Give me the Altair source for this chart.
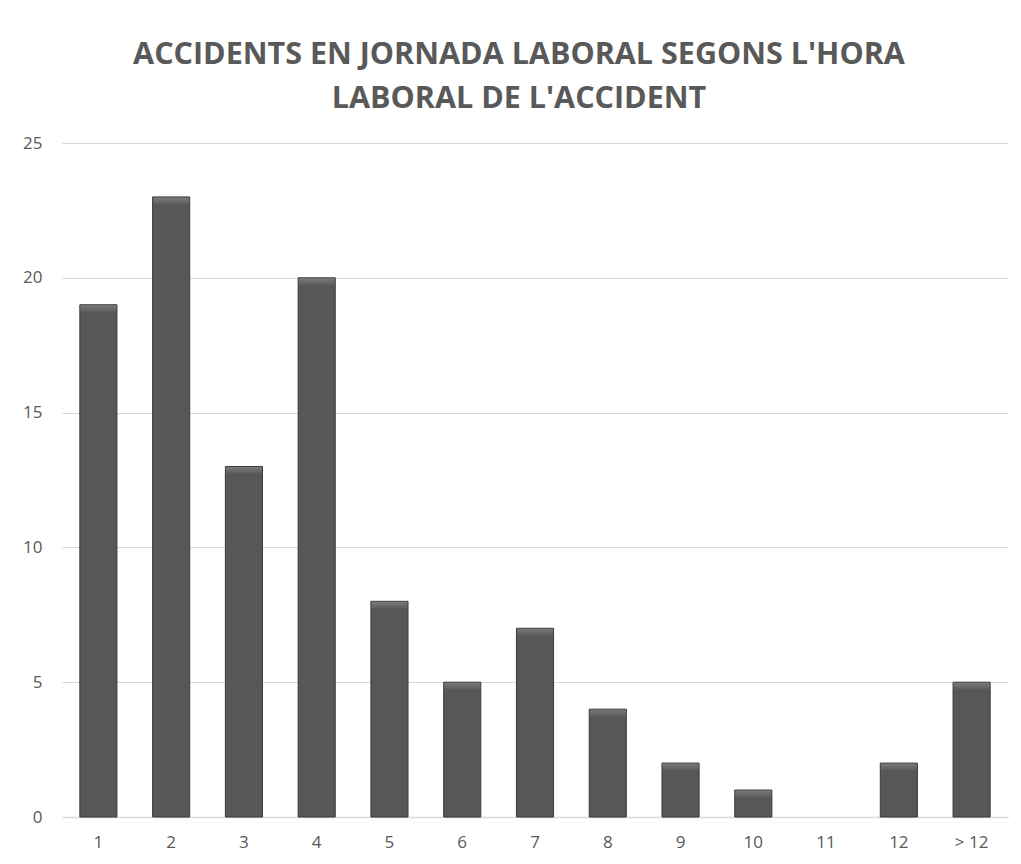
import altair as alt
import pandas as pd

categories = ["1", "2", "3", "4", "5", "6", "7", "8", "9", "10", "11", "12", "> 12"]
values = [19, 23, 13, 20, 8, 5, 7, 4, 2, 1, 0, 2, 5]

df = pd.DataFrame({"hora": categories, "accidents": values})

x = alt.X("hora:N", sort=categories, title=None,
          scale=alt.Scale(paddingInner=0.49, paddingOuter=0.245),
          axis=alt.Axis(labelAngle=0, labelFont="Open Sans", labelFontSize=17,
                        labelColor="#595959", labelPadding=17, ticks=False,
                        domainColor="#d9d9d9", domainWidth=1.5))
y = alt.Y("accidents:Q", title=None,
          scale=alt.Scale(domain=[0, 25]),
          axis=alt.Axis(values=[0, 5, 10, 15, 20, 25], labelFont="Open Sans",
                        labelFontSize=17, labelColor="#595959", labelPadding=20,
                        ticks=False, domain=False, gridColor="#d9d9d9",
                        gridWidth=1.2))

bars = alt.Chart(df).mark_bar(color="#575757", stroke="#3a3a3a", strokeWidth=1).encode(
    x=x, y=y,
    strokeOpacity=alt.condition("datum.accidents > 0", alt.value(1), alt.value(0)))

tops = alt.Chart(df).transform_filter("datum.accidents > 0").mark_tick(
    thickness=7, size=36, yOffset=4,
    color=alt.Gradient(gradient="linear",
                       stops=[alt.GradientStop(color="#8a8a8a", offset=0),
                              alt.GradientStop(color="#5c5c5c", offset=1)],
                       x1=0, x2=0, y1=0, y2=1)
).encode(x=x, y=y)

chart = alt.layer(bars, tops).properties(
    width=946, height=674,
    autosize=alt.AutoSizeParams(type="none"),
    padding={"left": 54, "top": 135, "right": 5, "bottom": 45},
    title=alt.TitleParams(
        text=["ACCIDENTS EN JORNADA LABORAL SEGONS L'HORA", "LABORAL DE L'ACCIDENT"],
        font="Open Sans", fontSize=30.5, fontWeight="bold", color="#595959",
        anchor="middle", frame="group", dx=-16, offset=20, lineHeight=44),
).configure(background="white").configure_view(stroke=None)

chart.save("out.html", embed_options={"renderer": "svg", "actions": False})
